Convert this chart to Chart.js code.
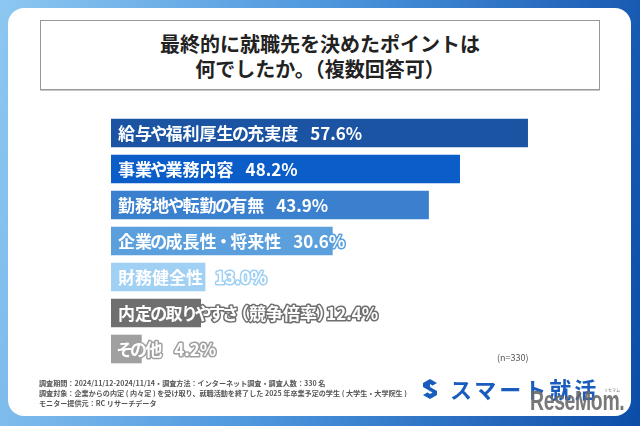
<!DOCTYPE html>
<html><head><meta charset="utf-8">
<script src="https://cdn.jsdelivr.net/npm/chart.js@4.4.1/dist/chart.umd.min.js"></script>
<style>
html,body{margin:0;padding:0;}
body{width:640px;height:426px;overflow:hidden;position:relative;background:linear-gradient(100deg,#8dc7f1 0%,#4f98de 45%,#0b4ca8 100%);font-family:"Noto Sans CJK JP","Noto Sans",sans-serif;}
#card{position:absolute;left:8px;top:8px;width:623px;height:408px;background:#fff;border-radius:16px;}
#titlebox{position:absolute;left:40px;top:20px;width:560px;height:70px;box-sizing:border-box;border:1px solid #999;box-shadow:0 1px 0 #c8c8c8;background:#fff;text-align:center;font-weight:bold;font-size:20px;line-height:25px;color:#222;padding-top:10px;}
#chartwrap{position:absolute;left:0;top:110px;width:640px;height:270px;}
#n{position:absolute;left:497px;top:351px;font-size:9px;color:#555;}
#foot{position:absolute;left:39px;top:378px;font-size:7.1px;line-height:10px;color:#555;font-weight:bold;white-space:nowrap;}
#logo{position:absolute;left:421px;top:376px;height:26px;}
#logotext{position:absolute;left:450px;top:374px;font-size:22px;font-weight:bold;color:#1a5cbd;letter-spacing:3px;line-height:28px;white-space:nowrap;}
#rm{position:absolute;left:530px;top:386px;font-family:"Liberation Sans",sans-serif;font-weight:bold;font-size:27px;line-height:30px;color:rgba(105,105,105,0.9);white-space:nowrap;transform:scaleX(0.72);transform-origin:0 0;letter-spacing:-0.5px;}
#rmk{position:absolute;left:604px;top:387px;font-size:5px;color:#777;transform:scale(0.8);transform-origin:0 0;}
</style>
</head><body>
<div id="card"></div>
<div id="titlebox">最終的に就職先を決めたポイントは<br>何でしたか。（複数回答可）</div>
<div id="chartwrap"><canvas id="c" width="640" height="270"></canvas></div>
<div id="n">(n=330)</div>
<div id="foot">調査期間：2024/11/12-2024/11/14・調査方法：インターネット調査・調査人数：330 名<br>調査対象：企業からの内定 ( 内々定 ) を受け取り、就職活動を終了した 2025 年卒業予定の学生 ( 大学生・大学院生 )<br>モニター提供元：RC リサーチデータ</div>
<svg id="logo" width="18" height="26" viewBox="0 0 18 26"><path d="M9 3 L16 7 L9 11 L16 15 L16 19 L9 23 L2 19 L9 15 L2 11 L2 7 Z" fill="#1a5cbd"/><path d="M9 8 L11.5 9.5 L9 11 Z M9 15 L6.5 16.5 L9 18 L11.5 16.5 Z" fill="#fff"/></svg>
<div id="logotext">スマート就活</div>
<div id="rm">ReseMom.</div>
<div id="rmk">リセマム</div>
<script>
const categories = ['給与や福利厚生の充実度','事業や業務内容','勤務地や転勤の有無','企業の成長性・将来性','財務健全性','内定の取りやすさ（競争倍率）','その他'];
const values = [57.6, 48.2, 43.9, 30.6, 13.0, 12.4, 4.2];
const valueLabels = ['57.6%','48.2%','43.9%','30.6%','13.0%','12.4%','4.2%'];
const palette = ['#1b54a3','#0b5dc8','#3a80cf','#5ba0dd','#a0d0f4','#6f6f6f','#a0a0a0'];

// lay out text with proportional kana / brackets (like "palt")
function layoutText(ctx, text, x, fs) {
  const out = [];
  for (const ch of text) {
    const c = ch.charCodeAt(0);
    if (ch === '（') { out.push([ch, x - fs * 0.3]); x += fs * 0.7; }
    else if (ch === '）') { out.push([ch, x]); x += fs * 0.55; }
    else if (c >= 0x3040 && c <= 0x30ff) { const adv = fs * 0.8; out.push([ch, x - (fs - adv) / 2]); x += adv; }
    else { out.push([ch, x]); x += ctx.measureText(ch).width; }
  }
  return { glyphs: out, end: x };
}

const labelPlugin = {
  id: 'barLabels',
  afterDatasetsDraw(chart) {
    const ctx = chart.ctx;
    const meta = chart.getDatasetMeta(0);
    const fs = 17;
    ctx.save();
    ctx.font = 'bold ' + fs + 'px "Noto Sans CJK JP", sans-serif';
    ctx.textBaseline = 'middle';
    ctx.lineJoin = 'round';
    meta.data.forEach((bar, i) => {
      const x0 = bar.base + 7;
      const y = bar.y + 1;
      const cat = categories[i];
      const lay = layoutText(ctx, cat, x0, fs);
      const gap = cat.endsWith('）') ? 0 : 12;
      const glyphs = lay.glyphs.concat([[valueLabels[i], lay.end + gap]]);
      ctx.strokeStyle = palette[i];
      ctx.lineWidth = 3;
      glyphs.forEach(([t, x]) => ctx.strokeText(t, x, y));
      ctx.fillStyle = '#fff';
      glyphs.forEach(([t, x]) => ctx.fillText(t, x, y));
    });
    ctx.restore();
  }
};

new Chart(document.getElementById('c'), {
  type: 'bar',
  data: {
    labels: categories,
    datasets: [{ data: values, backgroundColor: palette, borderWidth: 0, barThickness: 28 }]
  },
  options: {
    indexAxis: 'y',
    responsive: false,
    animation: false,
    layout: { padding: { left: 111, right: 95, top: 5, bottom: 13 } },
    scales: {
      x: { display: false, min: 0, max: 60 },
      y: { display: false }
    },
    plugins: { legend: { display: false }, tooltip: { enabled: false } }
  },
  plugins: [labelPlugin]
});
</script>
</body></html>
